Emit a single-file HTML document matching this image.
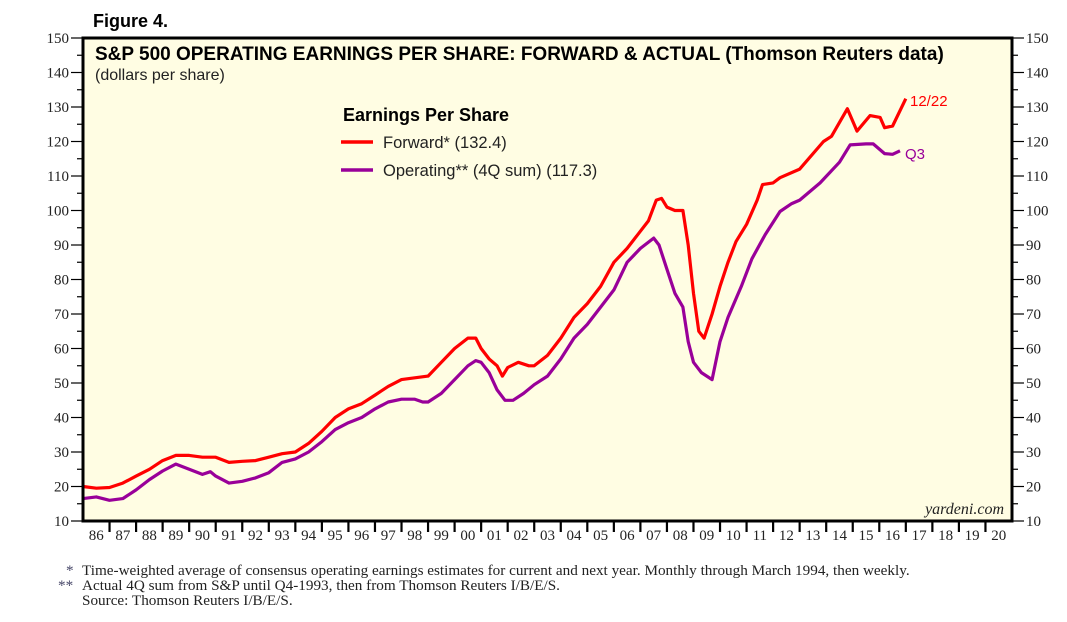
<!DOCTYPE html>
<html><head><meta charset="utf-8"><style>
body{margin:0;background:#fff;width:1067px;height:622px;overflow:hidden;}
svg{display:block;font-family:"Liberation Sans",sans-serif;}
</style></head><body>
<svg id="chart" width="1067" height="622" xmlns="http://www.w3.org/2000/svg">
<text x="93" y="27" font-size="18" font-weight="bold">Figure 4.</text>
<rect x="83" y="38" width="929" height="483" fill="#fffde3"/>
<g id="grid"></g>
<g id="series"></g>
<rect x="83" y="38" width="929" height="483" fill="none" stroke="#000" stroke-width="3"/>
<text x="95" y="60" font-size="19" font-weight="bold">S&amp;P 500 OPERATING EARNINGS PER SHARE: FORWARD &amp; ACTUAL (Thomson Reuters data)</text>
<text x="95" y="80" font-size="16" fill="#222">(dollars per share)</text>
<g>
<text x="343" y="121" font-size="18" font-weight="bold">Earnings Per Share</text>
<line x1="341" y1="142" x2="373" y2="142" stroke="#f00" stroke-width="3.5"/>
<text x="383" y="148" font-size="16.5" fill="#222">Forward* (132.4)</text>
<line x1="341" y1="170" x2="373" y2="170" stroke="#909" stroke-width="3.5"/>
<text x="383" y="176" font-size="16.5" fill="#222">Operating** (4Q sum) (117.3)</text>
</g>
<text x="910" y="106" font-size="15" fill="#f00">12/22</text>
<text x="905" y="159" font-size="15" fill="#909">Q3</text>
<text x="1004" y="514" font-size="16" font-style="italic" text-anchor="end" font-family="Liberation Serif, serif" fill="#222">yardeni.com</text>
<g font-family="Liberation Serif, serif" font-size="15.2" fill="#222">
<text x="66" y="575" fill="#446">*</text>
<text x="82" y="575">Time-weighted average of consensus operating earnings estimates for current and next year. Monthly through March 1994, then weekly.</text>
<text x="58" y="590" fill="#446">**</text>
<text x="82" y="590">Actual 4Q sum from S&amp;P until Q4-1993, then from Thomson Reuters I/B/E/S.</text>
<text x="82" y="605">Source: Thomson Reuters I/B/E/S.</text>
</g>
</svg>
<script>
const yTicks=[10,20,30,40,50,60,70,80,90,100,110,120,130,140,150];
const years=["86","87","88","89","90","91","92","93","94","95","96","97","98","99","00","01","02","03","04","05","06","07","08","09","10","11","12","13","14","15","16","17","18","19","20"];
const fwdT=[1986.0,1986.5,1987.0,1987.5,1988.0,1988.5,1989.0,1989.5,1990.0,1990.5,1991.0,1991.5,1992.0,1992.5,1993.0,1993.5,1994.0,1994.5,1995.0,1995.5,1996.0,1996.5,1997.0,1997.5,1998.0,1998.5,1999.0,1999.5,2000.0,2000.5,2000.8,2001.0,2001.3,2001.6,2001.8,2002.0,2002.4,2002.8,2003.0,2003.5,2004.0,2004.5,2005.0,2005.5,2006.0,2006.5,2007.0,2007.3,2007.6,2007.8,2008.0,2008.3,2008.6,2008.8,2009.0,2009.2,2009.4,2009.7,2010.0,2010.3,2010.6,2011.0,2011.4,2011.6,2012.0,2012.26,2013.0,2013.9,2014.2,2014.8,2015.16,2015.65,2016.03,2016.2,2016.5,2017.0];
const fwdV=[20,19.5,19.7,21,23,25,27.5,29,29,28.5,28.5,27,27.3,27.5,28.5,29.5,30,32.5,36,40,42.5,44,46.5,49,51,51.5,52,56,60,63,63,60,57,55,52,54.5,56,55,55,58,63,69,73,78,85,89,94,97,103,103.5,101,100,100,90,76,65,63,70,78,85,91,96,103,107.5,108,109.5,112,120,121.5,129.5,123,127.5,127,124,124.5,132.4];
const opT=[1986.0,1986.5,1987.0,1987.5,1988.0,1988.5,1989.0,1989.5,1990.0,1990.5,1990.8,1991.0,1991.5,1992.0,1992.5,1993.0,1993.5,1994.0,1994.5,1995.0,1995.5,1996.0,1996.5,1997.0,1997.5,1998.0,1998.5,1998.8,1999.0,1999.5,2000.0,2000.5,2000.8,2001.0,2001.3,2001.6,2001.9,2002.2,2002.6,2003.0,2003.5,2004.0,2004.5,2005.0,2005.5,2006.0,2006.5,2007.0,2007.5,2007.7,2008.0,2008.3,2008.6,2008.8,2009.0,2009.3,2009.7,2010.0,2010.3,2010.8,2011.2,2011.7,2012.26,2012.7,2013.0,2013.77,2014.5,2014.9,2015.5,2015.77,2016.2,2016.5,2016.78];
const opV=[16.5,17,16,16.5,19,22,24.5,26.5,25,23.5,24.3,23,21,21.5,22.5,24,27,28,30,33,36.5,38.5,40,42.5,44.5,45.3,45.3,44.5,44.5,47,51,55,56.5,56,53,48,45,45,47,49.5,52,57,63,67,72,77,85,89,92,90,83,76,72,62,56,53,51,62,69,78,86,93,99.7,102,103,108,114,119,119.3,119.3,116.5,116.3,117.3];
const NS="http://www.w3.org/2000/svg";
const L=83,R=1012,T=38,B=521;
const xs=t=>L+(t-1986)*(R-L)/35;
const ys=v=>B-(v-10)*(B-T)/140;
const grid=document.getElementById('grid');
const series=document.getElementById('series');
function mk(tag,attrs,parent){const e=document.createElementNS(NS,tag);for(const k in attrs)e.setAttribute(k,attrs[k]);parent.appendChild(e);return e;}
yTicks.forEach((v,i)=>{
  const y=ys(v);
  const tl=mk('line',{x1:L-12,x2:L,y1:y,y2:y,stroke:'#000','stroke-width':1.2},grid);
  
  
  const tr=mk('line',{x1:R,x2:R+12,y1:y,y2:y,stroke:'#000','stroke-width':1.2},grid);
  
  
  if(i<yTicks.length-1){const ym=ys(v+5);
    mk('line',{x1:L-6,x2:L,y1:ym,y2:ym,stroke:'#000','stroke-width':1.2},grid);
    mk('line',{x1:R,x2:R+6,y1:ym,y2:ym,stroke:'#000','stroke-width':1.2},grid);}
  const a=mk('text',{x:L-14,y:y+5,'text-anchor':'end','font-size':15,'font-family':'Liberation Serif, serif',fill:'#222'},grid);
  a.textContent=v;
  
  
  const b=mk('text',{x:R+14,y:y+5,'font-size':15,'font-family':'Liberation Serif, serif',fill:'#222'},grid);
  b.textContent=v;
  
  
});
years.forEach((yr,i)=>{
  const x=xs(1986+i);
  if(i>0){const t=mk('line',{x1:x,x2:x,y1:B,y2:B+11,stroke:'#000','stroke-width':2.2},grid);
  
  }
  const lb=mk('text',{x:x+(R-L)/70,y:B+19,'text-anchor':'middle','font-size':15,'font-family':'Liberation Serif, serif',fill:'#222'},grid);
  lb.textContent=yr;
  
  
});
function line(ts,vs,color,name){
  const d=ts.map((t,i)=>(i?'L':'M')+xs(t).toFixed(1)+','+ys(vs[i]).toFixed(1)).join('');
  const p=mk('path',{d:d,fill:'none',stroke:color,'stroke-width':3.2,'stroke-linejoin':'round'},series);
  
  
}
line(opT,opV,'#909','operating-eps-line');
line(fwdT,fwdV,'#f00','forward-eps-line');
</script>
</body></html>
